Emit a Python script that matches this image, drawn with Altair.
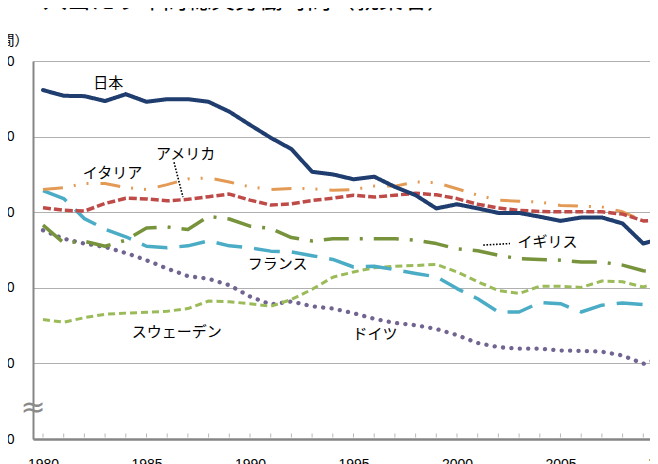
import pandas as pd
import altair as alt

years = list(range(1980, 2011))

japan = [2123, 2108, 2107, 2094, 2112, 2092, 2099, 2099, 2092, 2066, 2031, 1997, 1967, 1907, 1900, 1887,
         1894, 1867, 1845, 1810, 1821, 1810, 1798, 1798, 1788, 1777, 1786, 1786, 1770, 1717, 1733]
usa = [1812, 1805, 1803, 1823, 1837, 1835, 1830, 1834, 1841, 1848, 1832, 1819, 1822, 1831, 1837, 1845,
       1840, 1845, 1850, 1846, 1836, 1821, 1811, 1805, 1802, 1801, 1801, 1801, 1795, 1777, 1780]
italy = [1860, 1865, 1876, 1876, 1865, 1860, 1873, 1888, 1891, 1880, 1867, 1860, 1863, 1862, 1858, 1860,
         1869, 1869, 1880, 1878, 1862, 1845, 1832, 1829, 1827, 1818, 1816, 1814, 1801, 1777, 1783]
uk = [1766, 1719, 1723, 1710, 1726, 1758, 1761, 1754, 1789, 1782, 1763, 1757, 1733, 1724, 1730, 1730,
      1730, 1730, 1726, 1717, 1703, 1698, 1686, 1677, 1675, 1673, 1668, 1668, 1660, 1645, 1640]
france = [1857, 1836, 1783, 1755, 1735, 1710, 1706, 1711, 1724, 1711, 1706, 1697, 1695, 1685, 1675, 1655,
          1657, 1648, 1638, 1629, 1598, 1571, 1536, 1536, 1561, 1558, 1536, 1554, 1560, 1556, 1561]
sweden = [1516, 1509, 1521, 1530, 1533, 1535, 1538, 1545, 1565, 1563, 1558, 1551, 1569, 1596, 1628, 1642,
          1653, 1657, 1659, 1662, 1642, 1616, 1593, 1585, 1604, 1604, 1601, 1618, 1616, 1602, 1620]
germany = [1752, 1730, 1717, 1708, 1692, 1673, 1651, 1631, 1624, 1607, 1577, 1556, 1564, 1551, 1545, 1533,
           1518, 1507, 1501, 1491, 1475, 1454, 1443, 1439, 1439, 1434, 1433, 1431, 1421, 1399, 1417]

# drawing order: Japan last so it sits on top
names = ["ドイツ", "スウェーデン", "フランス", "イギリス", "イタリア", "アメリカ", "日本"]
values = [germany, sweden, france, uk, italy, usa, japan]
colors = ["#716491", "#9BBB59", "#4BACC6", "#77933C", "#E39A55", "#BE4B48", "#1F3D6E"]
dashes = [[0.1, 8.3], [7, 4], [26, 12], [25, 11, 3, 11], [20, 11, 2, 11, 2, 12], [8, 3], [1, 0]]
widths = [4.3, 3, 3.5, 3.5, 3, 3.5, 4]
caps = ["round", "butt", "butt", "butt", "butt", "butt", "round"]

# series name labels and the two dotted leader lines
label_text = ["日本", "アメリカ", "イタリア", "イギリス", "フランス", "スウェーデン", "ドイツ"]
label_year = [1983.15, 1986.89, 1983.36, 2004.37, 1991.33, 1986.46, 1996.04]
label_value = [2141, 1954, 1905, 1721, 1664, 1483, 1477]

leader_year = [1986.33, 2001.27]
leader_year2 = [1986.76, 2002.56]
leader_value = [1932, 1713]
leader_value2 = [1840, 1717]

title_text = "一人当たり年間総実労働時間（就業者）"
title_year = 1978.84
title_value = 2339

y_ticks = [1200, 1400, 1600, 1800, 2000, 2200]
x_labels = [1980, 1985, 1990, 1995, 2000, 2005]
x_labels_cut = [2010]  # last label sits past the right edge

jp_font = "Noto Sans CJK JP"
num_font = "Liberation Sans"

# the source image is cropped on the right, just before 2010
x_scale = alt.Scale(domain=[1979.517, 2009.324], nice=False, zero=False)
y_scale = alt.Scale(domain=[1200, 2200], nice=False, zero=False)

x_axis = alt.Axis(
    values=x_labels, format="d", ticks=False, tickSize=0, grid=False,
    domainColor="#868686", domainWidth=2.5, labelPadding=18, labelFlush=False,
    labelOverlap=False, labelFont=num_font, labelFontSize=14, labelColor="#000000",
    title=None
)
y_axis = alt.Axis(
    values=y_ticks,
    labelExpr="datum.value == 1200 ? '0' : format(datum.value, ',')",
    grid=True, gridColor="#b0b0b0", gridWidth=1,
    domainColor="#868686", domainWidth=2, ticks=False, tickSize=0,
    labelPadding=19, labelFont=num_font, labelFontSize=14, labelColor="#000000",
    title="（時間）", titleAngle=0, titleAlign="right", titleBaseline="middle",
    titleX=-5, titleY=-21, titleFont=jp_font, titleFontSize=14,
    titleFontWeight="normal", titleColor="#000000"
)


def xy(xfield="year", yfield="hours"):
    return dict(
        x=alt.X(f"{xfield}:Q", scale=x_scale, axis=x_axis),
        y=alt.Y(f"{yfield}:Q", scale=y_scale, axis=y_axis),
    )


layers = []
for i, name in enumerate(names):
    df = pd.DataFrame({"year": years, "hours": values[i]})
    line = alt.Chart(df).mark_line(
        color=colors[i], strokeWidth=widths[i], strokeDash=dashes[i],
        strokeCap=caps[i], strokeJoin="round", clip=True
    ).encode(**xy())
    layers.append(line)

# small year ticks standing up from the x axis
tick_df = pd.DataFrame({"year": years[:-1], "hours": [y_ticks[0]] * (len(years) - 1)})
ticks = alt.Chart(tick_df).mark_tick(
    orient="vertical", size=4, thickness=1, color="#9a9a9a", yOffset=-3.5
).encode(**xy())

cut_df = pd.DataFrame({"year": x_labels_cut, "hours": [y_ticks[0]], "text": [str(v) for v in x_labels_cut]})
cut_label = alt.Chart(cut_df).mark_text(
    font=num_font, fontSize=14, color="#000000", align="center", baseline="top", dy=18
).encode(text="text:N", **xy())

labels_df = pd.DataFrame({"year": label_year, "hours": label_value, "text": label_text})
labels = alt.Chart(labels_df).mark_text(
    font=jp_font, fontSize=15, color="#000000", align="center", baseline="middle"
).encode(text="text:N", **xy())

leader_df = pd.DataFrame({"year": leader_year, "year2": leader_year2,
                          "hours": leader_value, "hours2": leader_value2})
leaders = alt.Chart(leader_df).mark_rule(
    color="#000000", strokeWidth=1.6, strokeDash=[1.6, 1.6]
).encode(x2="year2:Q", y2="hours2:Q", **xy())

# axis break mark between 0 and 1,400
break_df = pd.DataFrame({"year": [1979.517], "hours": [1282]})
break_mark = alt.Chart(break_df).mark_text(
    text="≈", font="DejaVu Sans", fontSize=30, color="#8a8a8a",
    align="center", baseline="middle"
).encode(**xy())

# chart title, cut by the top edge like the source image
title_df = pd.DataFrame({"year": [title_year], "hours": [title_value], "text": [title_text]})
title = alt.Chart(title_df).mark_text(
    font=jp_font, fontSize=24, color="#000000", align="left", baseline="alphabetic"
).encode(text="text:N", **xy())

chart = alt.layer(
    *layers, ticks, leaders, labels, break_mark, cut_label, title
).properties(
    width=617, height=378,
    autosize=alt.AutoSizeParams(type="none"),
    padding={"left": 25, "top": 53, "right": 0, "bottom": 25},
    background="#ffffff",
).configure_view(
    stroke=None
)

chart.save("out.html", embed_options={"renderer": "svg", "actions": False})
